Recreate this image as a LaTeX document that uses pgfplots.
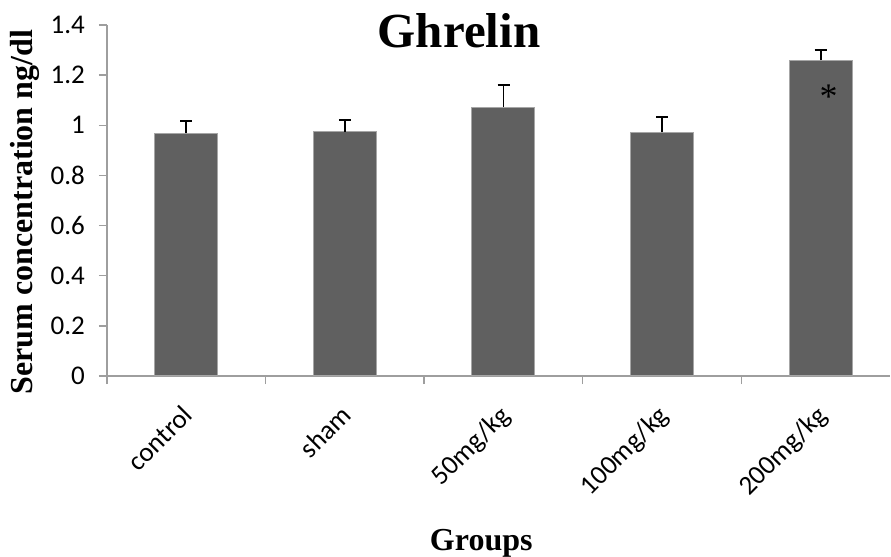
\documentclass[border=0pt]{standalone}
\usepackage{pgfplots}
\pgfplotsset{compat=1.18}
\usepackage{fontspec}
\setmainfont{Carlito}
\newfontfamily\tnr{Liberation Serif}
\definecolor{barfill}{HTML}{606060}
\definecolor{baredge}{HTML}{A6A6A6}
\definecolor{axgray}{HTML}{9E9E9E}
\begin{document}
\begin{tikzpicture}
\path[use as bounding box] (-53.5pt,-90.5pt) rectangle (392pt,188pt);
\begin{axis}[
  scale only axis,
  width=391.5pt, height=175.5pt,
  xmin=-0.5, xmax=4.437,
  ymin=0, ymax=1.4,
  axis lines=left,
  axis line style={-, draw=axgray, line width=0.7pt},
  ytick={0,0.2,...,1.4},
  yticklabels={0,0.2,0.4,0.6,0.8,1,1.2,1.4},
  xtick={0,1,2,3,4},
  xticklabels={control,sham,50mg/kg,100mg/kg,200mg/kg},
  minor xtick={-0.5,0.5,1.5,2.5,3.5},
  major x tick style={draw=none},
  minor x tick style={draw=axgray, line width=0.7pt},
  y tick style={draw=axgray, line width=0.7pt},
  tick align=outside,
  major tick length=4pt,
  minor tick length=4pt,
  ticklabel style={font=\fontsize{13.5}{15}\selectfont},
  yticklabel style={xshift=-3.5pt},
  xticklabel style={rotate=45, anchor=north east, xshift=-5.5pt, yshift=-1.5pt},
  /pgf/number format/assume math mode=true,
  clip=false,
]
\addplot[ybar, bar width=31.5pt, fill=barfill, draw=baredge, line width=0.5pt,
  error bars/.cd, y dir=plus, y explicit,
  error bar style={black, line width=0.8pt},
  error mark options={black, rotate=90, mark size=3pt, line width=0.8pt}]
  coordinates {
    (0,0.968) +- (0,0.050)
    (1,0.975) +- (0,0.047)
    (2,1.072) +- (0,0.089)
    (3,0.972) +- (0,0.061)
    (4,1.260) +- (0,0.040)
  };
\node[font=\tnr\fontsize{18}{20}\selectfont] at (axis cs:4.05,1.115) {*};
\node[font=\tnr\bfseries\fontsize{24.5}{28}\selectfont, anchor=base] at ([yshift=-11.5pt]rel axis cs:0.4496,1) {Ghrelin};
\node[font=\tnr\bfseries\fontsize{16}{18}\selectfont, rotate=90, anchor=center] at ([xshift=-41pt]rel axis cs:0,0.467) {Serum concentration ng/dl};
\node[font=\tnr\bfseries\fontsize{16}{18}\selectfont, anchor=base] at ([yshift=-87.5pt]rel axis cs:0.478,0) {Groups};
\end{axis}
\end{tikzpicture}
\end{document}
